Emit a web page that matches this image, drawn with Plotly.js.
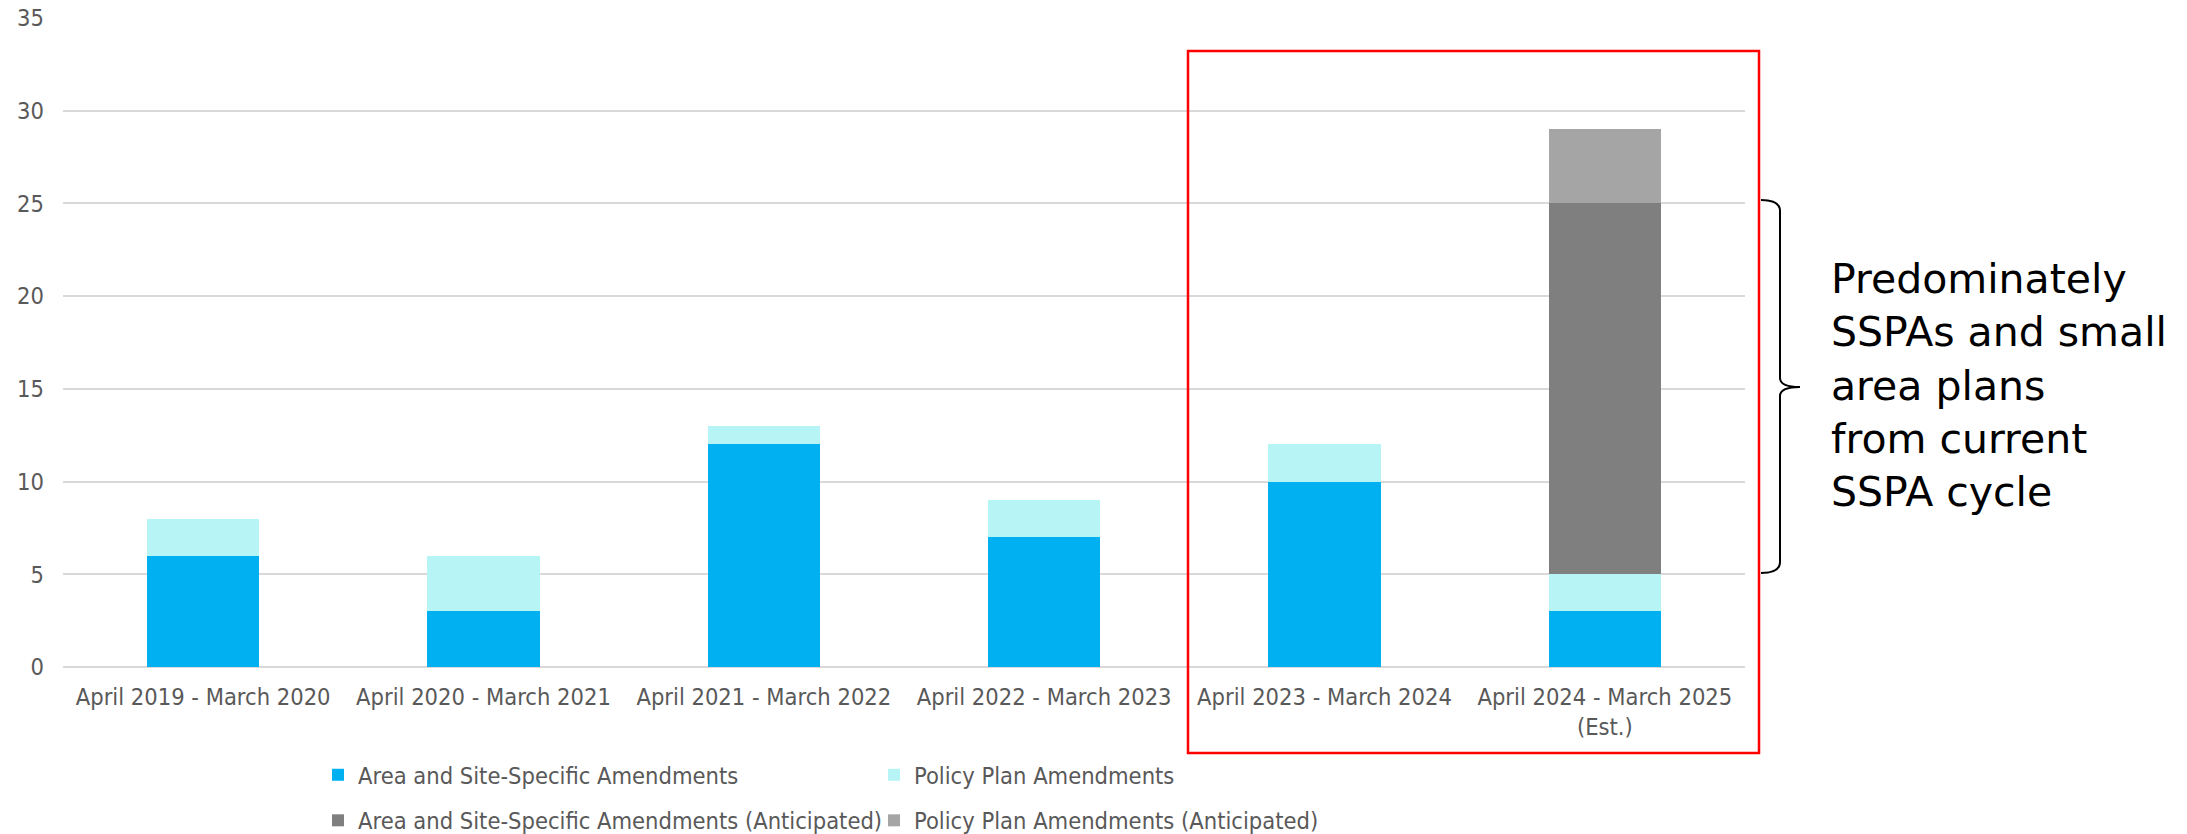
<!DOCTYPE html>
<html>
<head>
<meta charset="utf-8">
<script src="https://cdn.plot.ly/plotly-3.0.1.min.js"></script>
<style>
  html, body { margin: 0; padding: 0; background: #ffffff; }
  #chart { width: 2187px; height: 834px; }
</style>
</head>
<body>
<div id="chart"></div>
<script>
// ---- Data ----
const categories = [
  "April 2019 - March 2020",
  "April 2020 - March 2021",
  "April 2021 - March 2022",
  "April 2022 - March 2023",
  "April 2023 - March 2024",
  "April 2024 - March 2025<br>(Est.)"
];
const areaSiteSpecific = [6, 3, 12, 7, 10, 3];
const policyPlan = [2, 3, 1, 2, 2, 2];
const areaSiteSpecificAnticipated = [0, 0, 0, 0, 0, 20];
const policyPlanAnticipated = [0, 0, 0, 0, 0, 4];
const yTickValues = [0, 5, 10, 15, 20, 25, 30, 35];
const seriesNames = [
  "Area and Site-Specific Amendments",
  "Policy Plan Amendments",
  "Area and Site-Specific Amendments (Anticipated)",
  "Policy Plan Amendments (Anticipated)"
];
const noteText = "Predominately<br>SSPAs and small<br>area plans<br>from current<br>SSPA cycle";

// ---- Geometry helpers (pixel -> paper) ----
const W = 2187, H = 834;
const M = { l: 63, r: 442, t: 18, b: 167 };
const PW = W - M.l - M.r, PH = H - M.t - M.b;
const px = p => (p - M.l) / PW;
const py = p => (H - M.b - p) / PH;

const fontMain = "DejaVu Sans Condensed, Tahoma, sans-serif";
const grey = "#595959";
const fs = 23.5;

const colors = ["#00B0F0", "#B6F4F6", "#7F7F7F", "#A5A5A5"];
const seriesValues = [areaSiteSpecific, policyPlan, areaSiteSpecificAnticipated, policyPlanAnticipated];
const legendIds = ["legend", "legend2", "legend", "legend2"];

const traces = seriesValues.map((vals, i) => ({
  type: "bar",
  x: categories,
  y: vals,
  name: seriesNames[i],
  marker: { color: colors[i], line: { width: 0 } },
  legend: legendIds[i],
  legendgroup: "g" + i,
  hoverinfo: "name+y"
}));

const bracketPath =
  "M " + px(1761) + "," + py(200) +
  " Q " + px(1780) + "," + py(200) + " " + px(1780) + "," + py(211) +
  " L " + px(1780) + "," + py(378) +
  " Q " + px(1780) + "," + py(387) + " " + px(1800) + "," + py(387) +
  " Q " + px(1780) + "," + py(387) + " " + px(1780) + "," + py(396) +
  " L " + px(1780) + "," + py(562) +
  " Q " + px(1780) + "," + py(573) + " " + px(1761) + "," + py(573);

const legendCommon = {
  orientation: "v",
  xanchor: "left",
  yanchor: "top",
  y: py(753),
  bgcolor: "rgba(0,0,0,0)",
  borderwidth: 0,
  traceorder: "grouped",
  tracegroupgap: 12,
  font: { family: fontMain, size: fs, color: grey }
};

const layout = {
  width: W,
  height: H,
  margin: { l: M.l, r: M.r, t: M.t, b: M.b, pad: 0, autoexpand: false },
  paper_bgcolor: "#ffffff",
  plot_bgcolor: "#ffffff",
  font: { family: fontMain, size: fs, color: grey },
  barmode: "stack",
  bargap: 0.6,
  showlegend: true,
  legend: Object.assign({}, legendCommon, { x: px(318) }),
  legend2: Object.assign({}, legendCommon, { x: px(874) }),
  xaxis: {
    type: "category",
    showgrid: false,
    zeroline: false,
    showline: false,
    ticks: "",
    ticklabelstandoff: 13,
    tickfont: { family: fontMain, size: fs, color: grey },
    fixedrange: true
  },
  yaxis: {
    range: [0, 35],
    tickvals: yTickValues,
    showgrid: true,
    gridcolor: "#D9D9D9",
    gridwidth: 1.5,
    zeroline: true,
    zerolinecolor: "#D9D9D9",
    zerolinewidth: 1.5,
    showline: false,
    ticks: "",
    ticklabelstandoff: 18,
    tickfont: { family: fontMain, size: fs, color: grey },
    fixedrange: true
  },
  shapes: [
    {
      type: "rect", xref: "paper", yref: "paper",
      x0: px(1188), x1: px(1759), y0: py(753), y1: py(51),
      line: { color: "#FF0000", width: 2.5 },
      fillcolor: "rgba(0,0,0,0)"
    },
    {
      type: "path", xref: "paper", yref: "paper",
      path: bracketPath,
      line: { color: "#000000", width: 2 }
    }
  ],
  annotations: [
    {
      xref: "paper", yref: "paper",
      x: px(1829), y: py(385.5),
      xanchor: "left", yanchor: "middle",
      align: "left",
      showarrow: false,
      text: noteText,
      font: { family: "DejaVu Sans, Verdana, sans-serif", size: 41, color: "#000000" }
    }
  ]
};

Plotly.newPlot("chart", traces, layout, { displayModeBar: false, responsive: false });
</script>
</body>
</html>
